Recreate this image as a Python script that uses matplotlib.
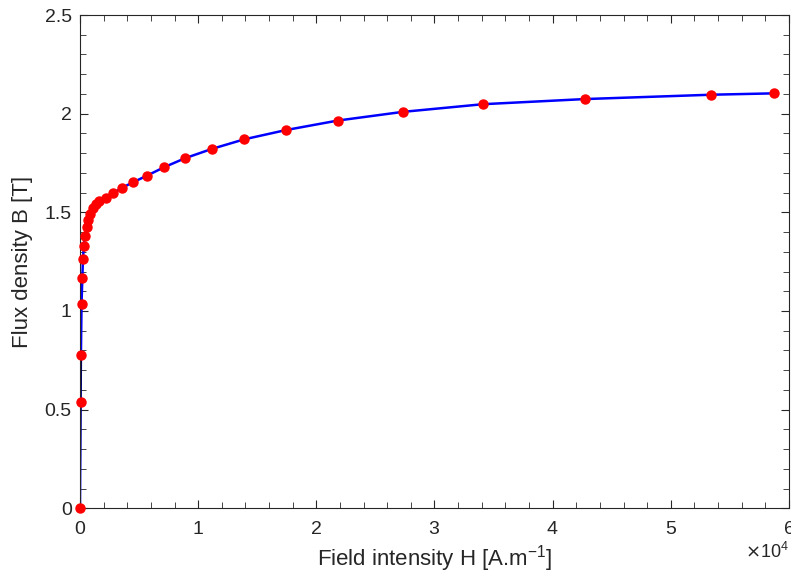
import numpy as np
import matplotlib
matplotlib.use('Agg')
import matplotlib.pyplot as plt
from matplotlib.ticker import MultipleLocator, ScalarFormatter, FormatStrFormatter

# B-H magnetisation data
H = [0, 50, 80, 130, 200, 250, 330, 440, 570, 700, 890, 1100, 1330, 1630,
     2200, 2820, 3580, 4480, 5670, 7100, 8880, 11140, 13900, 17430,
     21800, 27300, 34100, 42700, 53400, 58700]
B = [0, 0.537, 0.777, 1.035, 1.167, 1.262, 1.329, 1.382, 1.424, 1.461,
     1.49, 1.52, 1.543, 1.556, 1.575, 1.597, 1.625, 1.652, 1.686, 1.728,
     1.774, 1.821, 1.870, 1.917, 1.965, 2.009, 2.048, 2.074, 2.096, 2.103]

plt.rcParams['font.family'] = ['Liberation Sans', 'DejaVu Sans']

fig = plt.figure(figsize=(7.91, 5.71), dpi=100)
ax = fig.add_axes([0.1011, 0.1098, 0.8964, 0.8639])

ax.plot(H, B, '-', color='#0000ff', lw=1.8)
ax.plot(H[:3], B[:3], '-', color='k', lw=1.2)
ax.plot(H, B, 'o', color='#ff0000', ms=6.5, mec='#ff0000', clip_on=False, zorder=5)

ax.set_xlim(0, 60000)
ax.set_ylim(0, 2.5)
ax.xaxis.set_major_locator(MultipleLocator(10000))
ax.xaxis.set_minor_locator(MultipleLocator(2000))
ax.yaxis.set_major_locator(MultipleLocator(0.5))
ax.yaxis.set_minor_locator(MultipleLocator(0.1))

fmt = ScalarFormatter(useMathText=True)
fmt.set_powerlimits((0, 0))
ax.xaxis.set_major_formatter(fmt)
ax.yaxis.set_major_formatter(FormatStrFormatter('%g'))

ax.tick_params(which='both', direction='in', top=True, right=True,
               labelsize=14, colors='#262626', labelcolor='#262626')
ax.tick_params(which='major', length=6, width=0.8)
ax.tick_params(which='minor', length=4, width=0.6)
ax.tick_params(axis='x', pad=9)
ax.tick_params(axis='y', pad=6)
ax.xaxis.get_offset_text().set_fontsize(13)
for s in ax.spines.values():
    s.set_color('#262626')
    s.set_linewidth(0.8)

ax.set_xlabel('Field intensity H [A.m$^{\\mathregular{-1}}$]', fontsize=16,
              color='#262626', labelpad=4)
ax.set_ylabel('Flux density B [T]', fontsize=16, color='#262626', labelpad=8)

fig.savefig('out.png', dpi=100)
